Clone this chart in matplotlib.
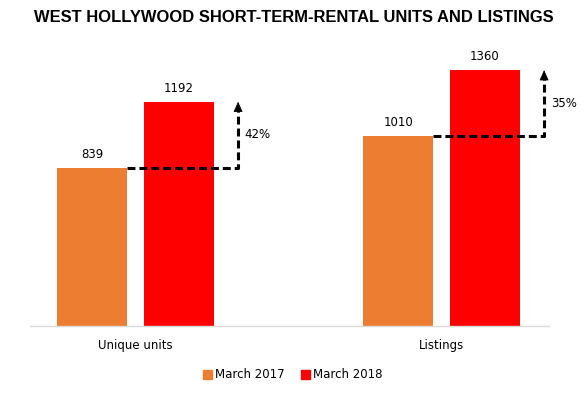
import numpy as np
import matplotlib
matplotlib.use("Agg")
import matplotlib.pyplot as plt
from matplotlib.patches import Patch

categories = ["Unique units", "Listings"]
march_2017 = [839, 1010]
march_2018 = [1192, 1360]
series_names = ["March 2017", "March 2018"]

c17 = "#ED7D31"
c18 = "#FF0000"

fig = plt.figure(figsize=(5.87, 3.94), dpi=100)
W, H = 587, 394
ax = fig.add_axes([30 / W, (H - 326) / H, 519 / W, 301 / H])

x = np.arange(len(categories))
bw = 0.229
off = 0.142
ax.bar(x - off, march_2017, bw, color=c17, zorder=2)
ax.bar(x + off, march_2018, bw, color=c18, zorder=2)

for i in range(len(categories)):
    v17, v18 = march_2017[i], march_2018[i]
    ax.annotate(str(v17), (x[i] - off, v17), xytext=(0, 9.5), textcoords="offset points",
                ha="center", va="center", fontsize=8.5)
    ax.annotate(str(v18), (x[i] + off, v18), xytext=(0, 9.5), textcoords="offset points",
                ha="center", va="center", fontsize=8.5)
    # growth arrow
    x0 = x[i] - off + bw / 2
    xa = x[i] + 0.335
    ax.plot([x0, xa, xa], [v17, v17, v18 - 40], color="black", lw=2.2,
            dashes=(2.6, 1.3), solid_capstyle="butt", zorder=3)
    ax.annotate("", xy=(xa, v18), xytext=(xa, v18 - 45),
                arrowprops=dict(arrowstyle="-|>,head_length=0.65,head_width=0.29",
                                color="black", lw=0.5, shrinkA=0, shrinkB=0,
                                mutation_scale=10), zorder=4)
    pct = round((v18 - v17) / v17 * 100)
    ax.text(xa + 0.022, (v17 + v18) / 2, f"{pct}%", ha="left", va="center", fontsize=8.5)

ax.set_xlim(-0.345, 1.351)
ax.set_ylim(0, 1600)
ax.set_xticks(x)
ax.set_xticklabels(categories, fontsize=8.5)
ax.tick_params(axis="x", length=0, pad=9)
ax.set_yticks([])
for s in ["top", "left", "right"]:
    ax.spines[s].set_visible(False)
ax.spines["bottom"].set_color("#D9D9D9")
ax.spines["bottom"].set_linewidth(1)

fig.text(0.5, 1 - 18 / H, "WEST HOLLYWOOD SHORT-TERM-RENTAL UNITS AND LISTINGS",
         ha="center", va="center", fontsize=11.9, fontweight="bold",
         family="Liberation Sans")

handles = [Patch(color=c17), Patch(color=c18)]
fig.legend(handles, series_names, loc="center", bbox_to_anchor=(293 / W, 1 - 375 / H),
           ncol=2, frameon=False, fontsize=8.5, handlelength=0.7, handleheight=0.7,
           handletextpad=0.3, columnspacing=1.4)

fig.savefig("out.png", dpi=100)
